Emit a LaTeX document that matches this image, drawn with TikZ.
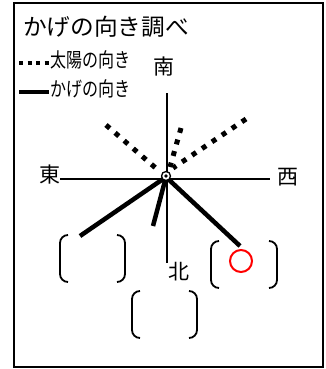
\documentclass[tikz,border=0pt]{standalone}
\usepackage{fontspec}
\setmainfont{Noto Sans CJK JP}
\usepackage{tikz}
\tikzset{
    hoko/.style={
        font=\fontsize{21}{21}\selectfont,
        inner sep=0pt
    },
    hanrei/.style={
        anchor=west,
        inner sep=0pt,
        font=\fontsize{20}{20}\selectfont,
        xscale=0.8
    },
    taiyo/.style={
        line width=5pt,
        dash pattern=on 5pt off 7pt
    },
    kage/.style={
        line width=4.5pt
    },
    kakko/.style={
        line width=1.8pt,
        rounded corners=8pt
    }
}
\newcommand{\kakko}[4] {
	\draw[kakko] (#1+8,#3) -- (#1,#3) -- (#1,#4) -- (#1+8,#4);
	\draw[kakko] (#2-8,#3) -- (#2,#3) -- (#2,#4) -- (#2-8,#4);
}

\begin{document}
\begin{tikzpicture}[x=1pt,y=-1pt]
		\useasboundingbox (0,0) rectangle (325,369);
		\draw[line width=2pt] (14,3) rectangle (323,367);

		% Title and legend
		\node[anchor=west,inner sep=0pt,font=\fontsize{23}{23}\selectfont,xscale=1.03] (title) at (23,27) {かげの向き調べ};
		\coordinate (sunA) at (19,63);
		\coordinate (sunB) at (49,63);
		\draw[line width=3.5pt,dash pattern=on 4pt off 4.5pt] (sunA) -- (sunB);
		\node[hanrei] (sunlabel) at (50,60) {太陽の向き};
		\coordinate (kageA) at (19,92);
		\coordinate (kageB) at (49,92);
		\draw[line width=3.5pt] (kageA) -- (kageB);
		\node[hanrei] (kagelabel) at (50,89) {かげの向き};

		% Directions
		\node[hoko] (minami) at (164,67) {南};
		\node[hoko] (higashi) at (50,175) {東};
		\node[hoko] (nishi) at (288,177) {西};
		\node[hoko] (kita) at (179,272) {北};
		\coordinate (nsTop) at (167,93);
		\coordinate (nsBottom) at (167,263);
		\coordinate (ewLeft) at (60,179);
		\coordinate (ewRight) at (270,179);

		% Sun directions
		\coordinate (sun1) at (106,125);
		\coordinate (sun2) at (181,128);
		\coordinate (sun3) at (246,119);
		\draw[taiyo] (sun1) -- (158,170);
		\draw[taiyo] (sun2) -- (170,167);
		\draw[taiyo] (sun3) -- (173,168);

		% Shadow directions
		\coordinate (o) at (166,177);
		\coordinate (kage1) at (80,236);
		\coordinate (kage2) at (153,226);
		\coordinate (kage3) at (240,246);
		\draw[kage] (o) -- (kage1);
		\draw[kage] (o) -- (kage2);
		\draw[kage] (o) -- (kage3);

		\draw[line width=1.3pt] (nsTop) -- (nsBottom);
		\draw[line width=1.3pt] (ewLeft) -- (ewRight);
		\node[circle,draw,fill=white,line width=1.3pt,minimum size=9pt,inner sep=0pt] (pole) at (166,176) {};
		\fill (pole.center) circle [radius=1.8pt];

		% Answer brackets
		\kakko{60}{125}{235}{282}
		\kakko{211}{277}{241}{288}
		\kakko{132}{197}{291}{338}
		\node[circle,draw=red,line width=2pt,minimum size=22pt,inner sep=0pt] (maru) at (241,261) {};

\end{tikzpicture}
\end{document}
